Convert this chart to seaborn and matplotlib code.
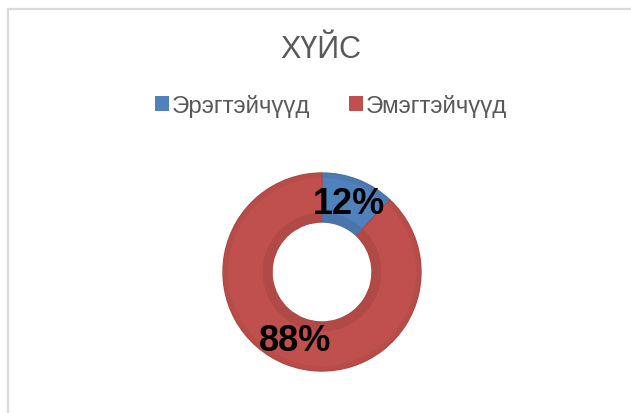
import matplotlib
matplotlib.use("Agg")
import matplotlib.pyplot as plt
from matplotlib.patches import Patch, Rectangle
import seaborn as sns

# Data
categories = ["Эрэгтэйчүүд", "Эмэгтэйчүүд"]
shares = [12, 88]
title = "ХҮЙС"

sns.set_theme(style="white")
plt.rcParams["font.family"] = ["Liberation Sans", "DejaVu Sans"]

main_colors = ["#4F81BD", "#C0504D"]
band_colors = ["#4874AA", "#AF4946"]

W, H = 631, 414
fig = plt.figure(figsize=(W / 100, H / 100), dpi=100)
fig.patch.set_facecolor("white")

# Chart-area frame (open towards the right/bottom edges)
fig.patches.append(Rectangle((8 / W, -0.1), 1.2, 1 - 10 / H + 0.1,
                             transform=fig.transFigure, fill=False,
                             edgecolor="#D9D9D9", linewidth=1.6))

# Donut axes: centre (322, 273) px, outer radius 99 px
cx, cy, half = 322, H - 273, 110
ax = fig.add_axes([(cx - half) / W, (cy - half) / H, 2 * half / W, 2 * half / H])
lim = half / 99

wedges, _, autotexts = ax.pie(
    shares, colors=main_colors, startangle=90, counterclock=False,
    radius=1.0, autopct="%.0f%%", pctdistance=0.74,
    wedgeprops=dict(width=0.495, edgecolor=None, linewidth=0),
    textprops=dict(fontsize=26, fontweight="bold", color="black"))

# Darker bevel band along the inner edge and a thin rim on the outside
ax.pie(shares, colors=band_colors, startangle=90, counterclock=False,
       radius=0.6, wedgeprops=dict(width=0.095, linewidth=0, alpha=0.85))
ax.pie(shares, colors=band_colors, startangle=90, counterclock=False,
       radius=1.0, wedgeprops=dict(width=0.05, linewidth=0, alpha=0.5))
for w, c in zip(wedges, band_colors):
    w.set_edgecolor(c)
    w.set_linewidth(1.0)
for t in autotexts:
    t.set_zorder(10)

ax.set_xlim(-lim, lim)
ax.set_ylim(-lim, lim)
ax.set_aspect("equal")
ax.axis("off")

# Title
fig.text(321 / W, 1 - 58 / H, title, ha="center", va="baseline",
         fontsize=22, color="#595959")

# Legend
fs = 17.3
px = fs * 100 / 72
handles = [Patch(facecolor=c, edgecolor="none") for c in main_colors]
fig.legend(handles, categories, loc="center", bbox_to_anchor=(331 / W, 1 - 106 / H),
           ncol=2, frameon=False, fontsize=fs, labelcolor="#595959",
           handlelength=14 / px, handleheight=14 / px, handletextpad=3 / px,
           columnspacing=38 / px, borderpad=0, borderaxespad=0)

fig.savefig("out.png", dpi=100, facecolor="white")
